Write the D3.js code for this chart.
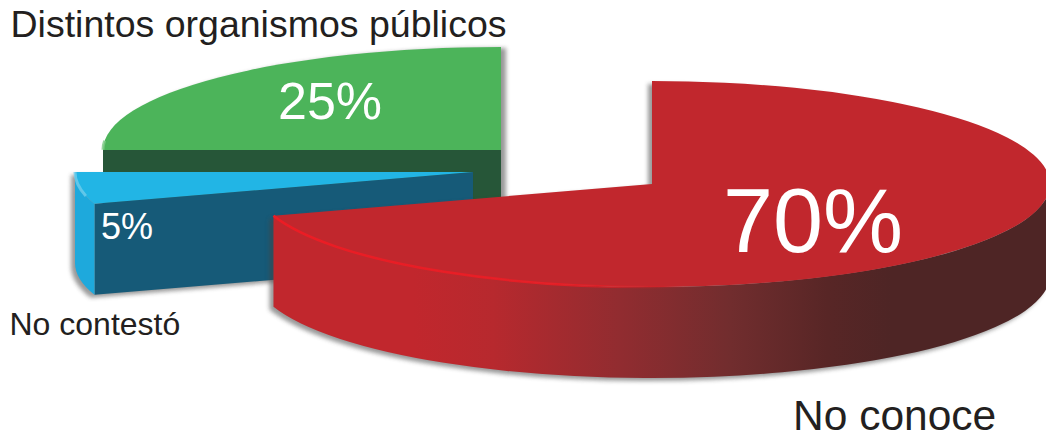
<!DOCTYPE html>
<html>
<head>
<meta charset="utf-8">
<style>
  html, body { margin: 0; padding: 0; background: #fff; overflow: hidden; }
  svg { display: block; }
  text { font-family: "Liberation Sans", Arial, sans-serif; }
</style>
</head>
<body>
<div id="chart"></div>
<script src="https://d3js.org/d3.v7.min.js"></script>
<script>
  // Data
  const categories = ['No conoce', 'Distintos organismos públicos', 'No contestó'];
  const values = [70, 25, 5];
  // pie order runs clockwise from 12 o'clock: red, blue, green
  const sliceOrder = ['No conoce', 'No contestó', 'Distintos organismos públicos'];

  const width = 1046;
  const height = 439;
  const rx = 398;
  const ry = 103;
  const depth = 91;

  // each slice is pulled apart, so it has its own apex
  const apex = {
    'No conoce': [652, 184],
    'Distintos organismos públicos': [501, 150],
    'No contestó': [473, 172]
  };
  const colors = {
    'No conoce': { top: '#c1272d', shadow: [-4, 3] },
    'Distintos organismos públicos': { top: '#4cb45a', cut: '#265638', glow: '#7ccb85', shadow: [5, 1] },
    'No contestó': { top: '#22b5e5', wall: '#1ea9dc', cut: '#165a78', glow: '#6fcdec', shadow: [-4, 3] }
  };

  const valueOf = name => values[categories.indexOf(name)];

  const pie = d3.pie().sort(null).value(d => valueOf(d));
  const slices = new Map(pie(sliceOrder).map(d => [d.data, d]));

  const arc = d3.arc().innerRadius(0).outerRadius(rx);

  const svg = d3.select('#chart').append('svg')
    .attr('width', width)
    .attr('height', height);

  const defs = svg.append('defs');

  defs.append('filter')
    .attr('id', 'soft')
    .attr('x', '-5%').attr('y', '-5%')
    .attr('width', '110%').attr('height', '110%')
    .append('feGaussianBlur')
    .attr('stdDeviation', 2);

  // dark rim of the big slice
  const rimGrad = defs.append('linearGradient')
    .attr('id', 'rim-grad')
    .attr('gradientUnits', 'userSpaceOnUse')
    .attr('x1', apex['No conoce'][0] - rx).attr('x2', apex['No conoce'][0] + rx)
    .attr('y1', 0).attr('y2', 0);
  [[0, '#c1272d'], [0.2, '#c1272d'], [0.3, '#b7292e'], [0.46, '#912c30'],
   [0.6, '#712d2e'], [0.72, '#582626'], [0.8, '#4e2525'], [1, '#4e2525']]
    .forEach(s => rimGrad.append('stop').attr('offset', s[0]).attr('stop-color', s[1]));

  // bright edge fades out towards the front
  const edgeGrad = defs.append('linearGradient')
    .attr('id', 'edge-grad')
    .attr('gradientUnits', 'userSpaceOnUse')
    .attr('x1', apex['No conoce'][0] - rx).attr('x2', apex['No conoce'][0] + 40)
    .attr('y1', 0).attr('y2', 0);
  [[0, '#ed1c24', 1], [0.7, '#ed1c24', 0.85], [1, '#ed1c24', 0]]
    .forEach(s => edgeGrad.append('stop').attr('offset', s[0])
      .attr('stop-color', s[1]).attr('stop-opacity', s[2]));

  // point of the rim ellipse at pie angle a
  const rimX = (name, a) => apex[name][0] + rx * Math.sin(a);
  const rimY = (name, a) => apex[name][1] - ry * Math.cos(a);

  function topArc(name, a0, a1) {
    const large = a1 - a0 > Math.PI ? 1 : 0;
    return `M${rimX(name, a0)},${rimY(name, a0)}A${rx},${ry} 0 ${large} 1 ${rimX(name, a1)},${rimY(name, a1)}`;
  }

  // outer wall between two angles, bottom edge goes back the other way
  function wallPath(name, a0, a1) {
    const large = a1 - a0 > Math.PI ? 1 : 0;
    return topArc(name, a0, a1) +
      `L${rimX(name, a1)},${rimY(name, a1) + depth}` +
      `A${rx},${ry} 0 ${large} 0 ${rimX(name, a0)},${rimY(name, a0) + depth}Z`;
  }

  // flat cut face from the apex to the rim at angle a
  function cutPath(name, a) {
    const [x, y] = apex[name];
    return `M${x},${y}L${rimX(name, a)},${rimY(name, a)}` +
      `L${rimX(name, a)},${rimY(name, a) + depth}L${x},${y + depth}Z`;
  }

  function drawTop(g, name) {
    const d = slices.get(name);
    g.append('path')
      .attr('transform', `translate(${apex[name][0]},${apex[name][1]}) scale(1,${ry / rx})`)
      .attr('d', arc(d))
      .attr('fill', colors[name].top);
  }

  function drawShadow(g, name, shapes) {
    const [dx, dy] = colors[name].shadow;
    const s = g.append('g')
      .attr('transform', `translate(${dx},${dy})`)
      .attr('filter', 'url(#soft)')
      .attr('opacity', 0.55);
    shapes.forEach(p => s.append('path').attr('d', p).attr('fill', '#444'));
    const d = slices.get(name);
    s.append('path')
      .attr('transform', `translate(${apex[name][0]},${apex[name][1]}) scale(1,${ry / rx})`)
      .attr('d', arc(d))
      .attr('fill', '#444');
  }

  // small light band on the outer corner of the top face
  function drawGlow(g, name, a0, a1) {
    g.append('path')
      .attr('d', topArc(name, a0, a1))
      .attr('fill', 'none')
      .attr('stroke', colors[name].glow)
      .attr('stroke-width', 3)
      .attr('opacity', 0.8);
  }

  // Green slice, at the back
  (function () {
    const name = 'Distintos organismos públicos';
    const d = slices.get(name);
    const g = svg.append('g');
    drawShadow(g, name, [cutPath(name, d.startAngle)]);
    g.append('path').attr('d', cutPath(name, d.startAngle)).attr('fill', colors[name].cut);
    drawTop(g, name);
    drawGlow(g, name, d.startAngle + 0.002, d.startAngle + 0.09);
  })();

  // Blue slice
  (function () {
    const name = 'No contestó';
    const d = slices.get(name);
    const g = svg.append('g');
    drawShadow(g, name, [wallPath(name, d.startAngle, d.endAngle), cutPath(name, d.startAngle)]);
    g.append('path').attr('d', cutPath(name, d.startAngle)).attr('fill', colors[name].cut);
    g.append('path').attr('d', wallPath(name, d.startAngle, d.endAngle)).attr('fill', colors[name].wall);
    drawTop(g, name);
    drawGlow(g, name, d.startAngle + 0.08, d.endAngle);
  })();

  // Red slice, in front
  (function () {
    const name = 'No conoce';
    const d = slices.get(name);
    const g = svg.append('g');
    const wallStart = Math.PI / 2;
    drawShadow(g, name, [wallPath(name, wallStart, d.endAngle)]);
    g.append('path').attr('d', wallPath(name, wallStart, d.endAngle)).attr('fill', 'url(#rim-grad)');
    drawTop(g, name);
    g.append('path')
      .attr('d', topArc(name, Math.PI * 0.95, d.endAngle))
      .attr('fill', 'none')
      .attr('stroke', 'url(#edge-grad)')
      .attr('stroke-width', 2.5);
  })();

  // Percentages on the slices
  const pct = name => valueOf(name) + '%';
  const valueLabels = [
    { name: 'No conoce', x: 723, y: 252, size: 90 },
    { name: 'Distintos organismos públicos', x: 278, y: 119, size: 52 },
    { name: 'No contestó', x: 101, y: 239, size: 36 }
  ];
  svg.selectAll('text.pct')
    .data(valueLabels)
    .enter()
    .append('text')
    .attr('class', 'pct')
    .attr('x', d => d.x)
    .attr('y', d => d.y)
    .attr('font-size', d => d.size)
    .attr('fill', '#fff')
    .text(d => pct(d.name));

  // Category names
  const nameLabels = [
    { name: 'Distintos organismos públicos', x: 10.5, y: 37, size: 37.5 },
    { name: 'No contestó', x: 9.5, y: 335, size: 32 },
    { name: 'No conoce', x: 793, y: 430, size: 42.5 }
  ];
  svg.selectAll('text.name')
    .data(nameLabels)
    .enter()
    .append('text')
    .attr('class', 'name')
    .attr('x', d => d.x)
    .attr('y', d => d.y)
    .attr('font-size', d => d.size)
    .attr('fill', '#231f20')
    .text(d => d.name);
</script>
</body>
</html>
